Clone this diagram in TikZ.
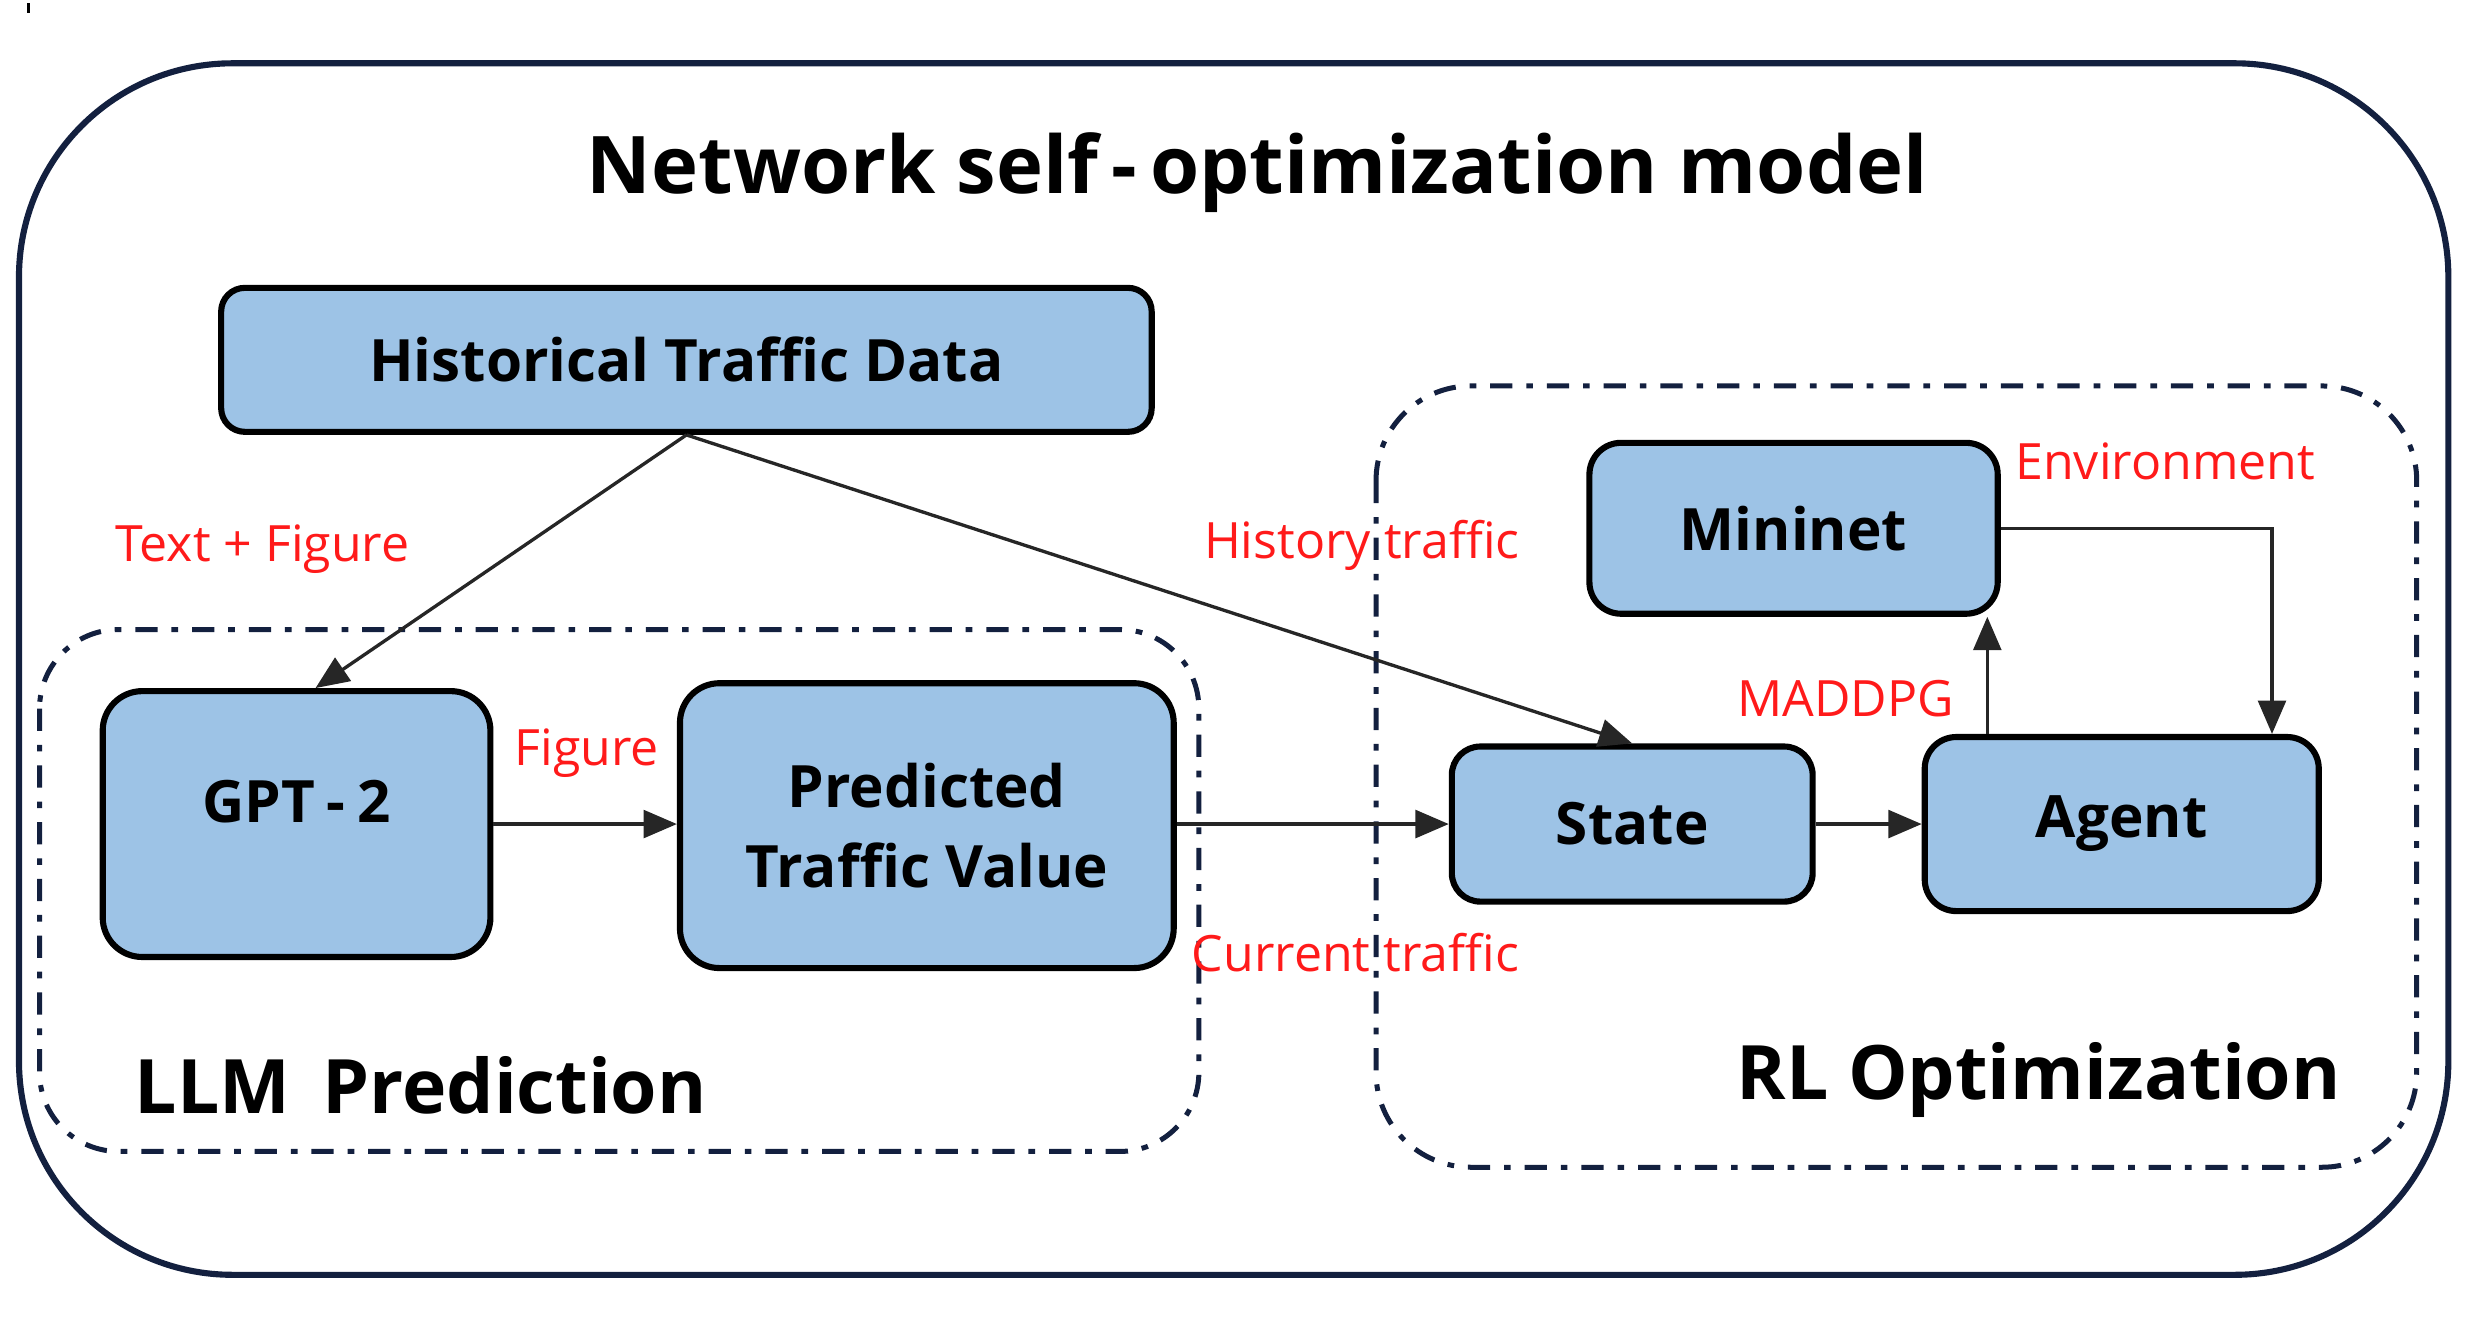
\documentclass[tikz,border=0pt]{standalone}
\usepackage{fontspec}
\setmainfont{Open Sans}
\usetikzlibrary{arrows.meta,calc}
\definecolor{boxfill}{HTML}{9DC3E6}
\definecolor{navy}{HTML}{13203F}
\definecolor{lblred}{HTML}{FF1A1A}
\tikzset{
  blk/.style={draw=black, line width=1.1pt, fill=boxfill, rounded corners=#1, font=\bfseries\fontsize{10.5}{12}\selectfont, align=center, inner sep=0pt},
  blk/.default=0.2cm,
  grp/.style={draw=navy, line width=0.9pt, dash pattern=on 4pt off 2.5pt on 1.2pt off 2.5pt},
  lbl/.style={text=lblred, font=\fontsize{9}{11}\selectfont, inner sep=0pt},
  arr/.style={draw=black!85, line width=0.6pt, -{Triangle[length=6pt,width=5pt]}},
  grplbl/.style={font=\fontsize{13.5}{16}\selectfont\bfseries, inner sep=0pt},
}
\begin{document}
\begin{tikzpicture}[x=0.01cm,y=-0.01cm]
\useasboundingbox (0,0) rectangle (1568,844);
% outer frame
\draw[navy, line width=1.1pt, rounded corners=1.35cm] (12,40) rectangle (1548,806);
\draw[black, line width=0.5pt] (18,2) -- (18,8);
\node[font=\fontsize{14.3}{17}\selectfont\bfseries, inner sep=0pt] (title) at (795,109) {Network self\,-\,optimization model};
% groups
\draw[grp, rounded corners=0.5cm] (25,398) rectangle (758,728);
\draw[grp, rounded corners=0.6cm] (870,244) rectangle (1528,738);
% blocks
\node[blk=0.15cm, minimum width=5.88cm, minimum height=0.91cm] (htd) at (434,227.5) {Historical Traffic Data};
\node[blk=0.25cm, minimum width=2.45cm, minimum height=1.68cm] (gpt) at (187.5,521) {};
\node[font=\bfseries\fontsize{10.5}{12}\selectfont, inner sep=0pt] (gpttxt) at (187.5,507) {GPT\hspace{0.2em}-\hspace{0.2em}2};
\node[blk=0.25cm, minimum width=3.12cm, minimum height=1.80cm] (ptv) at (586,522) {Predicted\\[2.5pt]Traffic Value};
\node[blk=0.2cm, minimum width=2.58cm, minimum height=1.08cm] (mini) at (1134,334) {Mininet};
\node[blk=0.18cm, minimum width=2.28cm, minimum height=0.98cm] (state) at (1032,521) {State};
\node[blk=0.2cm, minimum width=2.49cm, minimum height=1.10cm] (agent) at (1341.5,521) {Agent};
% group labels
\node[grplbl] (llm) at (266,686) {LLM\, Prediction};
\node[grplbl] (rl) at (1289,683) {RL Optimization};
% red labels
\node[lbl] (l1) at (166,347) {Text + Figure};
\node[lbl] (l2) at (861,345) {History traffic};
\node[lbl] (l3) at (371,476) {Figure};
\node[lbl] (l4) at (857,602) {Current traffic};
\node[lbl] (l5) at (1167,442) {MADDPG};
\node[lbl] (l6) at (1369,292) {Environment};
% connectors
\coordinate (gin) at ($(gpt.north)+(12,0)$);
\draw[arr] (htd.south) -- (gin);
\draw[arr] (htd.south) -- (state.north);
\draw[arr] (gpt.east) -- (ptv.west |- gpt.east);
\draw[arr] (ptv.east |- state.west) -- (state.west);
\draw[arr] (state.east) -- (agent.west);
\coordinate (up) at ($(agent.north)+(-85,0)$);
\draw[arr] (up) -- (up |- mini.south);
\coordinate (dn) at ($(agent.north)+(95,0)$);
\draw[arr] (mini.east) -| (dn);
\end{tikzpicture}
\end{document}
